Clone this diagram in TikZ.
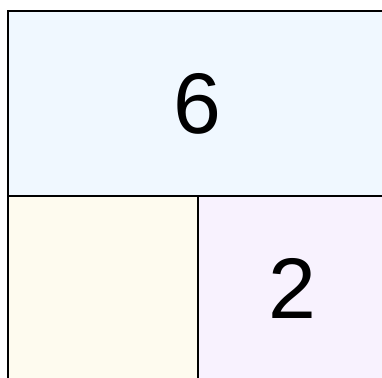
\documentclass[tikz,border=0pt]{standalone}
\usepackage{fontspec}
\setmainfont{Liberation Sans}
\definecolor{topfill}{HTML}{F0F8FF}
\definecolor{leftfill}{HTML}{FEFBEF}
\definecolor{rightfill}{HTML}{F8F2FE}
\begin{document}
\begin{tikzpicture}[x=1pt,y=1pt,
  cell/.style={draw=black, line width=2pt, rectangle, inner sep=0pt,
    font=\fontsize{86}{86}\selectfont}]
\useasboundingbox (0,0) rectangle (382,377);
\clip (0,0) rectangle (382,377);
\fill[white] (0,0) rectangle (382,377);
\node[cell, fill=topfill, minimum width=379pt, minimum height=185pt] (top) at (197.5,273.5) {6};
\node[cell, fill=leftfill, minimum width=190pt, minimum height=184pt] (bl) at (103,89) {};
\node[cell, fill=rightfill, minimum width=189pt, minimum height=184pt] (br) at (292.5,89) {2};
\end{tikzpicture}
\end{document}
